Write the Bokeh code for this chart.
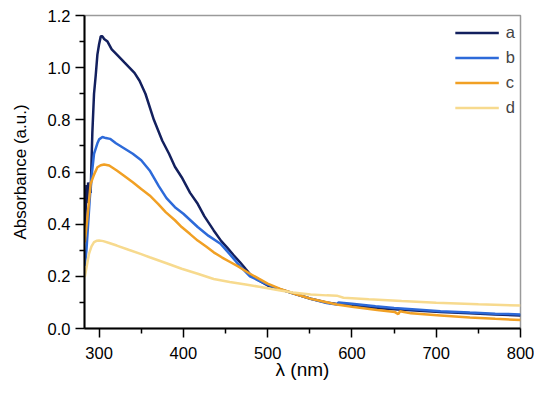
from bokeh.plotting import figure
from bokeh.models import Range1d, FixedTicker, PrintfTickFormatter, Legend, LegendItem
from bokeh.embed import file_html
from bokeh.resources import INLINE

# ---- data ----
lam_a = [283, 284, 285, 286, 287, 288, 289, 290, 292, 294, 296, 298, 300, 302, 304, 306, 310, 315, 322,
         330, 336, 342, 348, 355, 365, 375, 383, 390, 398, 408, 417, 425, 436, 445, 452, 460, 467, 474,
         480, 490, 500, 515, 530, 551, 570, 582, 600, 628, 650, 680, 705, 740, 770, 800]
abs_a = [0.36, 0.45, 0.55, 0.48, 0.56, 0.50, 0.55, 0.52, 0.75, 0.90, 0.97, 1.05, 1.09, 1.12, 1.12, 1.11,
         1.10, 1.07, 1.047, 1.02, 1.00, 0.98, 0.95, 0.90, 0.80, 0.72, 0.67, 0.62, 0.58, 0.52, 0.478, 0.43,
         0.376, 0.335, 0.31, 0.28, 0.255, 0.228, 0.205, 0.183, 0.165, 0.15, 0.135, 0.114, 0.10, 0.094, 0.088,
         0.079, 0.074, 0.068, 0.063, 0.058, 0.054, 0.05]

lam_b = [283, 285, 287, 289, 291, 294, 296, 298, 300, 304, 308, 313, 320, 330, 340, 350, 360, 371, 380,
         390, 400, 417, 430, 444, 455, 467, 479, 490, 500, 515, 530, 551, 570, 582, 584, 600, 628, 650,
         680, 705, 740, 770, 800]
abs_b = [0.24, 0.30, 0.40, 0.50, 0.58, 0.67, 0.69, 0.71, 0.725, 0.734, 0.73, 0.727, 0.71, 0.69, 0.67,
         0.645, 0.606, 0.545, 0.50, 0.465, 0.44, 0.389, 0.355, 0.325, 0.285, 0.24, 0.2, 0.183, 0.168,
         0.15, 0.135, 0.114, 0.098, 0.092, 0.10, 0.095, 0.085, 0.079, 0.072, 0.066, 0.061, 0.057, 0.054]

lam_c = [283, 286, 290, 294, 298, 302, 306, 312, 321, 330, 340, 350, 360, 370, 379, 390, 398, 408, 417,
         427, 436, 446, 456, 466, 479, 490, 500, 515, 530, 551, 582, 600, 630, 651, 655, 657, 670, 705,
         740, 770, 800]
abs_c = [0.33, 0.42, 0.555, 0.59, 0.618, 0.626, 0.629, 0.625, 0.606, 0.585, 0.561, 0.535, 0.51, 0.478,
         0.446, 0.415, 0.389, 0.362, 0.337, 0.314, 0.292, 0.272, 0.254, 0.236, 0.21, 0.19, 0.172, 0.152,
         0.135, 0.114, 0.092, 0.083, 0.071, 0.063, 0.055, 0.066, 0.058, 0.05, 0.042, 0.037, 0.033]

lam_d = [283, 286, 288, 291, 294, 297, 300, 305, 312, 321, 335, 350, 360, 380, 398, 417, 436, 455, 474,
         490, 515, 530, 551, 570, 582, 590, 620, 659, 700, 750, 800]
abs_d = [0.197, 0.25, 0.286, 0.315, 0.331, 0.336, 0.337, 0.335, 0.328, 0.318, 0.302, 0.285, 0.273, 0.25,
         0.229, 0.21, 0.19, 0.178, 0.169, 0.16, 0.146, 0.138, 0.13, 0.127, 0.126, 0.118, 0.112, 0.105,
         0.099, 0.093, 0.088]

series_names = ["a", "b", "c", "d"]
series_colors = ["#13205e", "#2d6ad9", "#f1a024", "#f7da8e"]

x_ticks = [300, 400, 500, 600, 700, 800]
x_minor = [350, 450, 550, 650, 750]
y_ticks = [0.0, 0.2, 0.4, 0.6, 0.8, 1.0, 1.2]
y_minor = [0.1, 0.3, 0.5, 0.7, 0.9, 1.1]

x_title = "λ (nm)"
y_title = "Absorbance (a.u.)"

FONT = "Liberation Sans"

p = figure(width=534, height=383, output_backend="svg", toolbar_location=None,
           x_range=Range1d(282.7, 800), y_range=Range1d(0, 1.2),
           min_border_left=84, min_border_top=15, min_border_right=14, min_border_bottom=55)
p.xgrid.visible = False
p.ygrid.visible = False
p.outline_line_color = "#9a9a9a"
p.outline_line_width = 1.5

renderers = []
for lam, ab, col in zip([lam_a, lam_b, lam_c, lam_d], [abs_a, abs_b, abs_c, abs_d], series_colors):
    r = p.line(lam, ab, line_color=col, line_width=2.5)
    renderers.append(r)

p.xaxis.ticker = FixedTicker(ticks=x_ticks, minor_ticks=x_minor)
p.yaxis.ticker = FixedTicker(ticks=y_ticks, minor_ticks=y_minor)
p.yaxis.formatter = PrintfTickFormatter(format="%.1f")

for ax in (p.xaxis[0], p.yaxis[0]):
    ax.axis_line_color = "black"
    ax.axis_line_width = 2
    ax.major_tick_line_color = "black"
    ax.minor_tick_line_color = "black"
    ax.major_tick_line_width = 1.5
    ax.minor_tick_line_width = 1.5
    ax.major_tick_in = 0
    ax.major_tick_out = 9
    ax.minor_tick_in = 0
    ax.minor_tick_out = 5
    ax.major_label_text_font = FONT
    ax.major_label_text_font_size = "16.5px"
    ax.major_label_text_color = "black"
    ax.axis_label_text_font = FONT
    ax.axis_label_text_font_style = "normal"
    ax.axis_label_text_color = "black"

p.xaxis.axis_label = x_title
p.yaxis.axis_label = y_title
p.xaxis.axis_label_text_font_size = "19px"
p.yaxis.axis_label_text_font_size = "17px"
p.xaxis.major_label_standoff = 9
p.yaxis.major_label_standoff = 5
p.xaxis.axis_label_standoff = -3
p.yaxis.axis_label_standoff = 15

legend = Legend(items=[LegendItem(label=n, renderers=[r]) for n, r in zip(series_names, renderers)],
                location="top_right", border_line_alpha=0, background_fill_alpha=0,
                padding=5, margin=0, spacing=0, glyph_width=44, glyph_height=25,
                label_height=25, label_width=8, label_standoff=7,
                label_text_font=FONT, label_text_font_size="16.5px")
p.add_layout(legend)

open("out.html", "w").write(file_html(p, INLINE))
